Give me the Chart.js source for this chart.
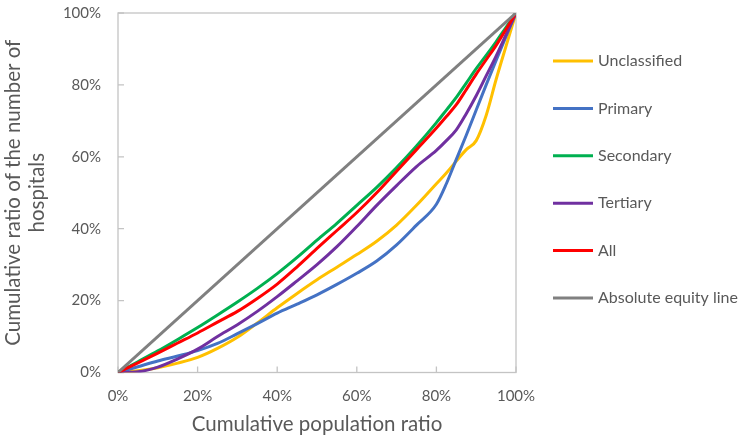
<!DOCTYPE html>
<html lang="en">

<head>
  <meta charset="UTF-8">
  <meta name="viewport" content="width=device-width, initial-scale=1.0">
  <title>Lorenz curves - hospitals</title>
  <script src="https://cdn.jsdelivr.net/npm/chart.js"></script>
  <style>
    body { margin: 0; background: #fff; }
  </style>
</head>

<body>
  <canvas id="chartLorenz" width="747" height="435"></canvas>

  <script>
    // cumulative population ratio (%)
    const popX = [0, 5, 10, 15, 20, 25, 30, 35, 40, 45, 50, 55, 60, 65, 70, 75, 80, 82.5, 85, 87.5, 90, 92.5, 95, 97.5, 100]

    // cumulative ratio of the number of hospitals (%)
    const unclassified = [0, 0.5, 1.3, 2.6, 4.2, 6.7, 9.8, 13.8, 18, 22, 25.8, 29.3, 32.8, 36.5, 41, 46.5, 52.5, 55.5, 58.8, 62, 64.5, 71.5, 81.5, 90.8, 100]
    const primary = [0, 1.6, 3.2, 4.6, 6.1, 8.1, 10.8, 13.6, 16.5, 19, 21.6, 24.5, 27.6, 31, 35.5, 41, 46.8, 52.5, 59.3, 66, 73, 80, 86.8, 93.5, 100]
    const secondary = [0, 3, 6, 9.2, 12.5, 16, 19.6, 23.4, 27.5, 32, 36.8, 41.5, 46.5, 51.5, 57, 63, 69.5, 73, 76.5, 80.5, 84.5, 88.2, 92, 96, 100]
    const tertiary = [0, 0.2, 1.5, 3.8, 6.5, 10, 13.3, 17, 21.1, 25.5, 30, 35, 40.6, 46.5, 52, 57.3, 61.8, 64.5, 67.5, 72, 77, 82.5, 88, 94, 100]
    const all = [0, 2.7, 5.4, 8.2, 11, 14, 17, 20.6, 24.6, 29.4, 34.5, 39.5, 44.5, 50, 56, 62, 68, 71.2, 74.5, 78.7, 83, 87, 91, 95.5, 100]
    const equityX = [0, 100]
    const equityY = [0, 100]

    const pctTicks = [0, 20, 40, 60, 80, 100]

    const txt = '#595959'
    const font = 'Lato'

    function pts(xs, ys) { // x/y arrays -> points
      return xs.map((v, i) => ({ x: v, y: ys[i] }))
    }

    function series(label, xs, ys, color, order) {
      return {
        label: label,
        data: pts(xs, ys),
        borderColor: color,
        backgroundColor: color,
        borderWidth: 3,
        pointRadius: 0,
        cubicInterpolationMode: 'monotone',
        order: order // later series drawn on top, like excel
      }
    }

    // box around plot + small inside tick marks
    const frame = {
      id: 'frame',
      beforeDatasetsDraw(chart) {
        const { ctx, chartArea: a, scales: { x, y } } = chart
        ctx.save()
        ctx.strokeStyle = '#c4c4c4'
        ctx.lineWidth = 1.3
        ctx.strokeRect(a.left, a.top, a.width, a.height)
        ctx.beginPath()
        x.ticks.forEach(t => {
          const px = x.getPixelForValue(t.value)
          ctx.moveTo(px, a.bottom)
          ctx.lineTo(px, a.bottom - 6)
        })
        y.ticks.forEach(t => {
          const py = y.getPixelForValue(t.value)
          ctx.moveTo(a.left, py)
          ctx.lineTo(a.left + 6, py)
        })
        ctx.stroke()
        ctx.restore()
      }
    }

    // legend on the right, one item per dataset (built-in one gets squeezed)
    const sideLegend = {
      id: 'sideLegend',
      afterDraw(chart) {
        const ctx = chart.ctx
        const left = chart.chartArea.right + 37
        ctx.save()
        ctx.font = '16px ' + font
        ctx.textBaseline = 'middle'
        chart.data.datasets.forEach((ds, i) => {
          const yy = 61 + i * 47.4
          ctx.strokeStyle = ds.borderColor
          ctx.lineWidth = 3
          ctx.beginPath()
          ctx.moveTo(left, yy)
          ctx.lineTo(left + 40, yy)
          ctx.stroke()
          ctx.fillStyle = txt
          ctx.fillText(ds.label, left + 45, yy)
        })
        ctx.restore()
      }
    }

    new Chart(document.getElementById('chartLorenz'), {
      type: 'line',
      data: {
        datasets: [
          series('Unclassified', popX, unclassified, '#FFC000', 6),
          series('Primary', popX, primary, '#4472C4', 5),
          series('Secondary', popX, secondary, '#00B050', 4),
          series('Tertiary', popX, tertiary, '#7030A0', 3),
          series('All', popX, all, '#FF0000', 2),
          series('Absolute equity line', equityX, equityY, '#808080', 1)
        ]
      },
      options: {
        responsive: false,
        animation: false,
        layout: { padding: { top: 13, right: 231, bottom: 0, left: 0 } },
        plugins: {
          tooltip: { enabled: false },
          legend: { display: false }
        },
        scales: {
          x: {
            type: 'linear',
            min: 0,
            max: 100,
            afterBuildTicks: s => { s.ticks = pctTicks.map(v => ({ value: v })) },
            afterFit: s => { s.height = 62.5 },
            grid: { display: false, drawTicks: false },
            border: { display: false },
            ticks: {
              padding: 15,
              color: txt,
              font: { family: font, size: 15 },
              callback: v => v + '%'
            },
            title: {
              display: true,
              text: 'Cumulative population ratio',
              color: txt,
              font: { family: font, size: 20.5, lineHeight: 1 },
              padding: { top: 0, bottom: 0 }
            }
          },
          y: {
            min: 0,
            max: 100,
            afterBuildTicks: s => { s.ticks = pctTicks.map(v => ({ value: v })) },
            afterFit: s => {
              s.width = 118
              s.paddingTop = 0 // tick padding would otherwise push the plot down
              s.paddingBottom = 0
            },
            grid: { display: false, drawTicks: false },
            border: { display: false },
            ticks: {
              padding: 17,
              color: txt,
              font: { family: font, size: 15 },
              callback: v => v + '%'
            },
            title: {
              display: true,
              text: ['Cumulative ratio of the number of', 'hospitals'],
              color: txt,
              font: { family: font, size: 20.5, lineHeight: 1.15 },
              padding: { top: 2, bottom: 0 }
            }
          }
        }
      },
      plugins: [frame, sideLegend]
    })
  </script>
</body>

</html>
